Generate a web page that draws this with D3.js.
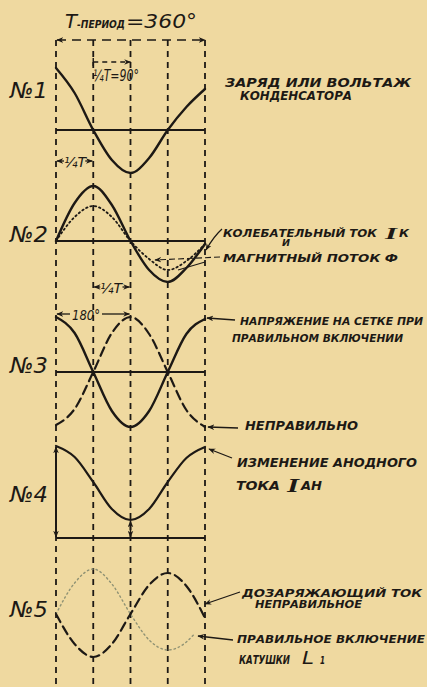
<!DOCTYPE html>
<html><head><meta charset="utf-8">
<script src="https://cdn.jsdelivr.net/npm/d3@7"></script>
<style>html,body{margin:0;padding:0;background:#EFD9A0;} svg{display:block;}</style>
</head><body><svg id="c" width="427" height="687"></svg>
<script>
// ---- data (arbitrary units) ----
const degrees = [0,45,90,135,180,225,270,315,360];
const periodTicks = [0,90,180,270,360];
const chargeN1 = [62,37,0,-30,-43,-28,0,23,41];
const currentN2 = [0,38,55,36,0,-29,-41,-27,-3];
const fluxN2 = [0,24,35,24,0,-18,-29,-20,-3];
const gridRightN3 = [55,39,0,-39,-55,-39,0,38,53];
const gridWrongN3 = [-53,-37,0,39,55,38,0,-38,-55];
const anodeN4 = [92,81,56,29,18,29,56,80,91];
const rechargeWrongN5 = [0,-30,-43,-30,0,29,41,28,-4];
const degreesN5right = [0,45,90,135,180,225,270,315,332];
const rechargeRightN5 = [0,31,45,30,0,-26,-36,-28,-21];
const panelNames = ["№1","№2","№3","№4","№5"];

// ---- layout ----
const ink = "#1d1915";
const FONT = "'DejaVu Sans Condensed','Liberation Sans Narrow','DejaVu Sans',sans-serif";
const svg = d3.select("#c");
svg.append("rect").attr("width",427).attr("height",687).attr("fill","#EFD9A0");
const defs = svg.append("defs");
defs.append("marker").attr("id","ah").attr("viewBox","0 0 10 8").attr("refX",9).attr("refY",4)
  .attr("markerWidth",7).attr("markerHeight",6).attr("markerUnits","userSpaceOnUse")
  .attr("orient","auto-start-reverse")
  .append("path").attr("d","M0,0 L10,4 L0,8 L3,4 Z").attr("fill",ink);

const x = d3.scaleLinear().domain([0,360]).range([56,205]);
const axisY = [130, 241, 372, 538, 614];
const yPanel = i => d3.scaleLinear().domain([-60,60]).range([axisY[i]+60, axisY[i]-60]);
const y1 = yPanel(0), y2 = yPanel(1), y3 = yPanel(2), y5 = yPanel(4);
const y4 = d3.scaleLinear().domain([0,100]).range([axisY[3], axisY[3]-100]);

function curve(xs, vals, ys, opts){
  const line = d3.line().x((d,i)=>x(xs[i])).y(d=>ys(d)).curve(d3.curveMonotoneX);
  svg.append("path").attr("d", line(vals)).attr("fill","none")
    .attr("stroke", opts.color||ink).attr("stroke-width", opts.w||2)
    .attr("stroke-dasharray", opts.dash||null).attr("stroke-linecap","round");
}
function seg(x1,y1_,x2,y2_,o={}){
  const l = svg.append("line").attr("x1",x1).attr("y1",y1_).attr("x2",x2).attr("y2",y2_)
    .attr("stroke",ink).attr("stroke-width",o.w||1.5).attr("stroke-dasharray",o.dash||null);
  if(o.end) l.attr("marker-end","url(#ah)");
  if(o.start) l.attr("marker-start","url(#ah)");
  return l;
}
function txt(t, x0, yb, w, size, o={}){
  const e = svg.append("text").attr("x",x0).attr("y",yb).text(t)
    .attr("font-family", o.family||FONT).attr("font-size",size)
    .attr("font-weight", o.weight||"bold").attr("font-style","italic").attr("fill",ink);
  if(w) e.attr("textLength",w).attr("lengthAdjust","spacingAndGlyphs");
  return e;
}

// vertical dashed period lines
svg.selectAll("line.v").data(periodTicks).join("line").attr("class","v")
  .attr("x1",d=>x(d)).attr("x2",d=>x(d)).attr("y1",40).attr("y2",687)
  .attr("stroke",ink).attr("stroke-width",1.8).attr("stroke-dasharray","6,5");

// title
txt("T", 65, 28, 12, 19, {weight:"normal"});
txt("-ПЕРИОД", 77, 28, 48, 11, {weight:"bold"});
txt("=360°", 126, 28, 71, 19, {weight:"normal"});
seg(x(0)+1, 40, x(360), 40, {dash:"9,6", start:true, end:true, w:1.6});
// 1/4 T = 90
seg(x(90), 58, x(90), 66, {w:1.4});
seg(x(90), 62, x(180), 62, {dash:"5,4", end:true, w:1.4});
txt("¼T=90°", 93, 81, 46, 15, {weight:"normal"});

// panel names
const nameBase = [98, 242, 373, 502, 617];
panelNames.forEach((n,i)=> txt(n, 10, nameBase[i], 38, 22, {weight:"normal"}));

// Panel 1
seg(x(0), axisY[0], x(360), axisY[0], {w:2});
curve(degrees, chargeN1, y1, {w:2.4});
txt("ЗАРЯД ИЛИ ВОЛЬТАЖ", 225, 87, 186, 12);
txt("КОНДЕНСАТОРА", 240, 100, 112, 12);
txt("¼T", 64, 167, 22, 14, {weight:"normal"});
seg(x(0)+8, 161, x(0)+1, 161, {end:true, w:1.3});
seg(x(90)-8, 161, x(90)-1, 161, {end:true, w:1.3});

// Panel 2
seg(x(0), axisY[1], x(360), axisY[1], {w:2});
curve(degrees, fluxN2, y2, {w:1.8, dash:"1.5,3"});
curve(degrees, currentN2, y2, {w:2.4});
txt("КОЛЕБАТЕЛЬНЫЙ ТОК", 223, 237, 154, 10.5);
txt("I", 385, 239, 12, 17, {family:"'Liberation Serif',serif"});
txt("К", 399, 237, 10, 10.5);
txt("И", 282, 246, 8, 9);
txt("МАГНИТНЫЙ ПОТОК Ф", 223, 262, 175, 10.5);
svg.append("path").attr("d","M222,229 Q214,236 206,250").attr("fill","none")
  .attr("stroke",ink).attr("stroke-width",1.3).attr("marker-end","url(#ah)");
seg(220, 257, 155, 260, {end:true, w:1.1, dash:"6,3"});
seg(205, 262, 178, 270, {w:1.1});
txt("¼T", 100, 293, 22, 14, {weight:"normal"});
seg(x(90)+7, 287, x(90)+1, 287, {end:true, w:1.3});
seg(x(180)-8, 287, x(180)-1, 287, {end:true, w:1.3});

// Panel 3
seg(x(0), axisY[2], x(360), axisY[2], {w:2});
curve(degrees, gridWrongN3, y3, {w:2.2, dash:"9,5"});
curve(degrees, gridRightN3, y3, {w:2.4});
txt("180°", 72, 320, 28, 14, {weight:"normal"});
seg(70, 314, x(0)+1, 314, {end:true, w:1.3});
seg(102, 314, x(180)-1, 314, {end:true, w:1.3});
txt("НАПРЯЖЕНИЕ НА СЕТКЕ ПРИ", 240, 325, 183, 10.5);
txt("ПРАВИЛЬНОМ ВКЛЮЧЕНИИ", 232, 342, 171, 10.5);
seg(235, 320, 207, 318, {end:true, w:1.3});
txt("НЕПРАВИЛЬНО", 245, 430, 113, 11.5);
seg(238, 428, 208, 427, {end:true, w:1.3});

// Panel 4
seg(x(0), axisY[3], x(360), axisY[3], {w:2});
curve(degrees, anodeN4, y4, {w:2.2});
seg(x(0), y4(anodeN4[0])+1, x(0), axisY[3]-1, {start:true, end:true, w:2});
seg(x(180), y4(anodeN4[4])+1, x(180), axisY[3]-1, {start:true, end:true, w:1.5});
txt("ИЗМЕНЕНИЕ АНОДНОГО", 237, 467, 180, 12.5);
txt("ТОКА", 236, 490, 44, 12.5);
txt("I", 287, 492, 12, 19, {family:"'Liberation Serif',serif"});
txt("АН", 301, 490, 21, 12.5);
seg(232, 458, 209, 449, {end:true, w:1.3});

// Panel 5
curve(degreesN5right, rechargeRightN5, y5, {w:1.4, dash:"1.5,3", color:"#8f9274"});
curve(degrees, rechargeWrongN5, y5, {w:2.2, dash:"9,5"});
txt("ДОЗАРЯЖАЮЩИЙ ТОК", 242, 597, 180, 11);
txt("НЕПРАВИЛЬНОЕ", 255, 608, 107, 10);
seg(240, 592, 205, 604, {end:true, w:1.3});
txt("ПРАВИЛЬНОЕ ВКЛЮЧЕНИЕ", 237, 643, 188, 11);
txt("КАТУШКИ", 239, 664, 51, 12);
txt("L", 302, 664, 12, 18, {weight:"normal"});
txt("1", 320, 664, 5, 10);
seg(233, 640, 198, 636, {end:true, w:1.3});
</script></body></html>
